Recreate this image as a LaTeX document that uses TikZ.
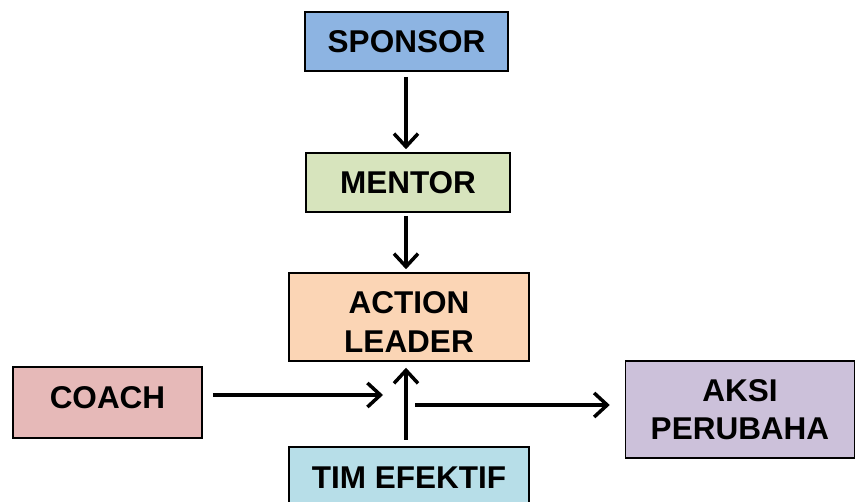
\documentclass[tikz,border=0pt]{standalone}
\usepackage{fontspec}
\setmainfont{Liberation Sans}
\usetikzlibrary{arrows.meta}
\definecolor{sponsorfill}{RGB}{141,180,226}
\definecolor{mentorfill}{RGB}{215,228,189}
\definecolor{leaderfill}{RGB}{251,213,181}
\definecolor{coachfill}{RGB}{230,185,184}
\definecolor{timfill}{RGB}{183,222,232}
\definecolor{aksifill}{RGB}{204,193,218}
\tikzset{
  box/.style={draw=black, line width=1.5pt, inner sep=0pt, align=center,
    font=\fontsize{31.5}{38.5}\selectfont\bfseries},
  link/.style={line width=3.5pt, -{Straight Barb[length=13pt,width=24pt,line width=3.5pt]}}
}
\begin{document}
\begin{tikzpicture}[x=1pt,y=-1pt]
\clip (0,0) rectangle (855,502);
\fill[white] (0,0) rectangle (855,502);

\node[box, fill=sponsorfill, minimum width=203pt, minimum height=59pt] (sponsor) at (406.5,41.5) {SPONSOR};
\node[box, fill=mentorfill, minimum width=204pt, minimum height=59pt] (mentor) at (408,182.5) {MENTOR};
\node[box, fill=leaderfill, minimum width=240pt, minimum height=88pt] (leader) at (409,317)
  {\rule{0pt}{32pt}ACTION\\LEADER};
\node[box, fill=coachfill, minimum width=189pt, minimum height=71pt, text depth=9pt] (coach) at (107.5,402.5) {COACH};
\node[box, fill=timfill, minimum width=240pt, minimum height=62pt] (tim) at (409,478) {TIM EFEKTIF};
\node[box, fill=aksifill, minimum width=229pt, minimum height=97pt] (aksi) at (740,409.5) {AKSI\\PERUBAHA};

\coordinate (coachtip) at (383,395);
\coordinate (outstart) at (415,405);

\draw[link, shorten <=6pt, shorten >=3pt] (406,71) coordinate (s1) -- (s1 |- mentor.north);
\draw[link, shorten <=4pt, shorten >=3pt] (406,212) coordinate (m1) -- (m1 |- leader.north);
\draw[link, shorten <=10pt] (coach.east |- coachtip) -- (coachtip);
\draw[link, shorten <=7pt, shorten >=6pt] (406,447) coordinate (t1) -- (t1 |- leader.south);
\draw[link, shorten >=15pt] (outstart) -- (outstart -| aksi.west);
\end{tikzpicture}
\end{document}
